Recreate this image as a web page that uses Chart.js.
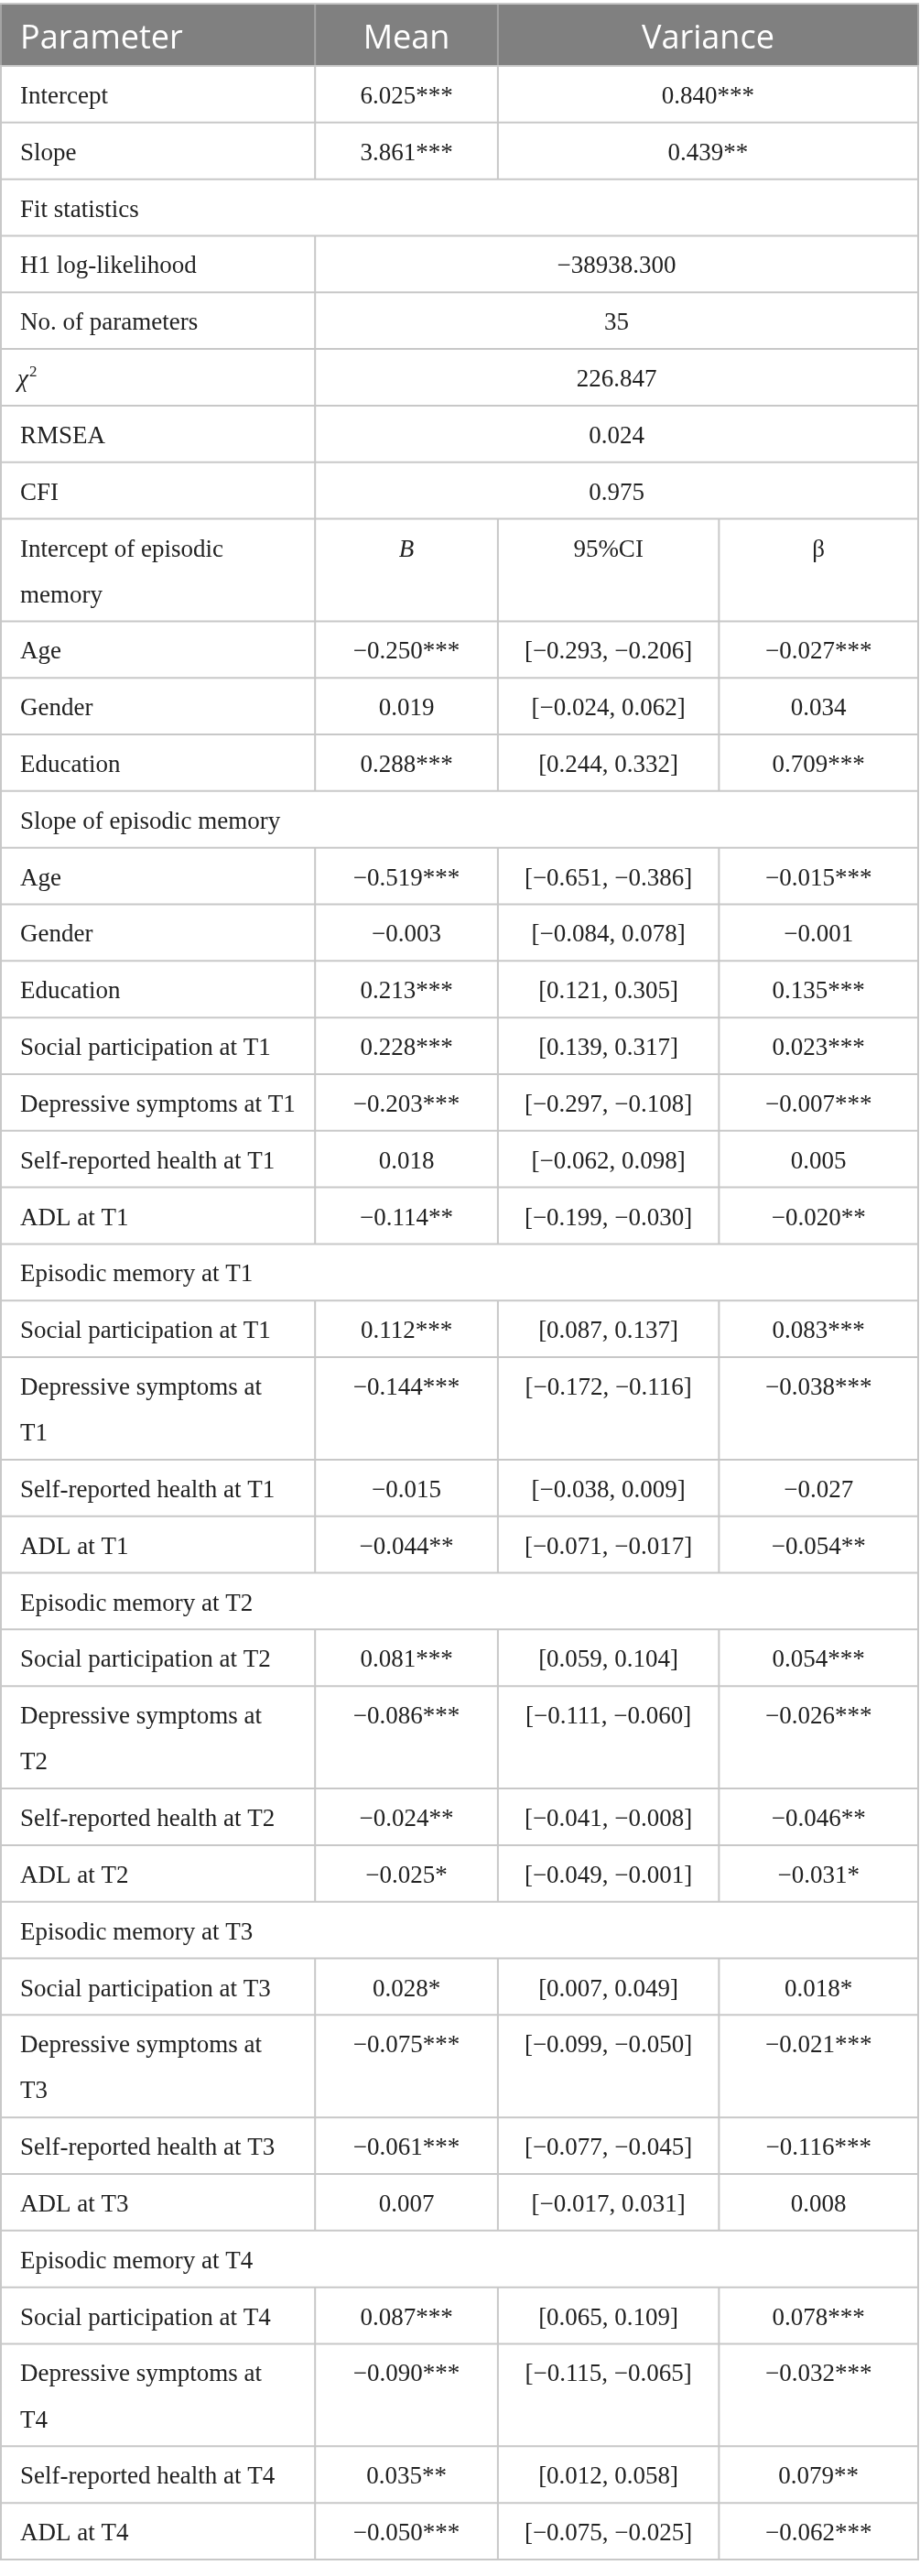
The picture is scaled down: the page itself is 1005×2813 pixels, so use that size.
<!DOCTYPE html>
<html>
<head>
<meta charset="utf-8">
<script src="https://cdn.jsdelivr.net/npm/chart.js@4.4.1/dist/chart.umd.min.js"></script>
<style>
  html, body { margin: 0; padding: 0; background: #ffffff; }
  #wrap { width: 1005px; height: 2813px; }
</style>
</head>
<body>
<div id="wrap"><canvas id="c" width="1005" height="2813"></canvas></div>
<script>
// ---------------- DATA ----------------
const headerLabels = ['Parameter', 'Mean', 'Variance'];

const growthParams    = ['Intercept', 'Slope'];
const growthMeans     = ['6.025***', '3.861***'];
const growthVariances = ['0.840***', '0.439**'];

const fitTitle  = 'Fit statistics';
const fitLabels = ['H1 log-likelihood', 'No. of parameters', 'χ2', 'RMSEA', 'CFI'];
const fitValues = ['−38938.300', '35', '226.847', '0.024', '0.975'];

const coefHeader = ['B', '95%CI', 'β'];

const sectionTitles = [
  'Intercept of episodic\nmemory',
  'Slope of episodic memory',
  'Episodic memory at T1',
  'Episodic memory at T2',
  'Episodic memory at T3',
  'Episodic memory at T4'
];

const interceptPredictors = ['Age', 'Gender', 'Education'];
const interceptB    = ['−0.250***', '0.019', '0.288***'];
const interceptCI   = ['[−0.293, −0.206]', '[−0.024, 0.062]', '[0.244, 0.332]'];
const interceptBeta = ['−0.027***', '0.034', '0.709***'];

const slopePredictors = ['Age', 'Gender', 'Education', 'Social participation at T1',
  'Depressive symptoms at T1', 'Self-reported health at T1', 'ADL at T1'];
const slopeB    = ['−0.519***', '−0.003', '0.213***', '0.228***', '−0.203***', '0.018', '−0.114**'];
const slopeCI   = ['[−0.651, −0.386]', '[−0.084, 0.078]', '[0.121, 0.305]', '[0.139, 0.317]',
  '[−0.297, −0.108]', '[−0.062, 0.098]', '[−0.199, −0.030]'];
const slopeBeta = ['−0.015***', '−0.001', '0.135***', '0.023***', '−0.007***', '0.005', '−0.020**'];

const t1Predictors = ['Social participation at T1', 'Depressive symptoms at\nT1', 'Self-reported health at T1', 'ADL at T1'];
const t1B    = ['0.112***', '−0.144***', '−0.015', '−0.044**'];
const t1CI   = ['[0.087, 0.137]', '[−0.172, −0.116]', '[−0.038, 0.009]', '[−0.071, −0.017]'];
const t1Beta = ['0.083***', '−0.038***', '−0.027', '−0.054**'];

const t2Predictors = ['Social participation at T2', 'Depressive symptoms at\nT2', 'Self-reported health at T2', 'ADL at T2'];
const t2B    = ['0.081***', '−0.086***', '−0.024**', '−0.025*'];
const t2CI   = ['[0.059, 0.104]', '[−0.111, −0.060]', '[−0.041, −0.008]', '[−0.049, −0.001]'];
const t2Beta = ['0.054***', '−0.026***', '−0.046**', '−0.031*'];

const t3Predictors = ['Social participation at T3', 'Depressive symptoms at\nT3', 'Self-reported health at T3', 'ADL at T3'];
const t3B    = ['0.028*', '−0.075***', '−0.061***', '0.007'];
const t3CI   = ['[0.007, 0.049]', '[−0.099, −0.050]', '[−0.077, −0.045]', '[−0.017, 0.031]'];
const t3Beta = ['0.018*', '−0.021***', '−0.116***', '0.008'];

const t4Predictors = ['Social participation at T4', 'Depressive symptoms at\nT4', 'Self-reported health at T4', 'ADL at T4'];
const t4B    = ['0.087***', '−0.090***', '0.035**', '−0.050***'];
const t4CI   = ['[0.065, 0.109]', '[−0.115, −0.065]', '[0.012, 0.058]', '[−0.075, −0.025]'];
const t4Beta = ['0.078***', '−0.032***', '0.079**', '−0.062***'];

// ---------------- LAYOUT / STYLE ----------------
const colWidths = [34.25, 19.93, 24.1, 21.72];          // percent of table width
const colEdges = colWidths.reduce((a, w) => (a.push(a[a.length - 1] + w), a), [0]);
const HEADER_UNITS = 1.1;
const LINE_UNITS = 0.81;
const BODY_FONT = '"Liberation Serif", "Times New Roman", serif';
const HEAD_FONT = '"Open Sans", "Noto Sans", sans-serif';
const BODY_SIZE = 27;
const HEAD_SIZE = 36;
const TEXT_COLOR = '#222222';
const RULE_COLOR = '#c8c8c8';
const HEAD_BG = '#808080';
const HEAD_RULE = '#a4a4a4';

// ---------------- TABLE MODEL ----------------
const rows = [];
function addRow(cells, extra) {
  const lines = Math.max(...cells.map(c => c.t.split('\n').length));
  rows.push(Object.assign({ cells, h: 1 + LINE_UNITS * (lines - 1) }, extra || {}));
}
rows.push({ header: true, h: HEADER_UNITS, cells: [
  { t: headerLabels[0], c: [0, 1], left: true },
  { t: headerLabels[1], c: [1, 2] },
  { t: headerLabels[2], c: [2, 4] }
]});
growthParams.forEach((p, i) => addRow([
  { t: p, c: [0, 1], left: true },
  { t: growthMeans[i], c: [1, 2] },
  { t: growthVariances[i], c: [2, 4] }
]));
addRow([{ t: fitTitle, c: [0, 4], left: true }]);
fitLabels.forEach((p, i) => addRow([
  { t: p, c: [0, 1], left: true, chi: p === 'χ2' },
  { t: fitValues[i], c: [1, 4] }
]));
const sections = [
  [interceptPredictors, interceptB, interceptCI, interceptBeta],
  [slopePredictors, slopeB, slopeCI, slopeBeta],
  [t1Predictors, t1B, t1CI, t1Beta],
  [t2Predictors, t2B, t2CI, t2Beta],
  [t3Predictors, t3B, t3CI, t3Beta],
  [t4Predictors, t4B, t4CI, t4Beta]
];
sections.forEach((sec, si) => {
  if (si === 0) {
    addRow([
      { t: sectionTitles[si], c: [0, 1], left: true },
      { t: coefHeader[0], c: [1, 2], italic: true },
      { t: coefHeader[1], c: [2, 3] },
      { t: coefHeader[2], c: [3, 4] }
    ]);
  } else {
    addRow([{ t: sectionTitles[si], c: [0, 4], left: true }]);
  }
  const [preds, B, CI, beta] = sec;
  preds.forEach((p, i) => addRow([
    { t: p, c: [0, 1], left: true },
    { t: B[i], c: [1, 2] },
    { t: CI[i], c: [2, 3] },
    { t: beta[i], c: [3, 4] }
  ]));
});
const totalUnits = rows.reduce((s, r) => s + r.h, 0);

// ---------------- DRAW PLUGIN ----------------
const tablePlugin = {
  id: 'tablePlugin',
  afterDraw(chart) {
    const ctx = chart.ctx;
    const xs = chart.scales.x, ys = chart.scales.y;
    const px = v => xs.getPixelForValue(v);
    const py = v => ys.getPixelForValue(v);
    const lineGap = py(LINE_UNITS) - py(0);
    ctx.save();
    let acc = 0;
    const geo = rows.map(r => { const g = { top: py(acc), bot: py(acc + r.h) }; acc += r.h; return g; });

    // backgrounds
    rows.forEach((r, i) => {
      if (r.header) {
        ctx.fillStyle = HEAD_BG;
        ctx.fillRect(px(0) - 1, geo[i].top, px(100) - px(0) + 2, geo[i].bot - geo[i].top);
      }
    });

    // vertical rules
    ctx.lineWidth = 2;
    rows.forEach((r, i) => {
      ctx.strokeStyle = r.header ? HEAD_RULE : RULE_COLOR;
      r.cells.forEach((c, k) => {
        const edges = [c.c[0]];
        if (k === r.cells.length - 1) edges.push(c.c[1]);
        edges.forEach(e => {
          const xx = px(colEdges[e]);
          ctx.beginPath();
          ctx.moveTo(xx, geo[i].top);
          ctx.lineTo(xx, geo[i].bot);
          ctx.stroke();
        });
      });
    });

    // horizontal rules
    ctx.strokeStyle = RULE_COLOR;
    const hLines = [geo[0].top].concat(geo.map(g => g.bot));
    hLines.forEach(yy => {
      ctx.beginPath();
      ctx.moveTo(px(0) - 1, yy);
      ctx.lineTo(px(100) + 1, yy);
      ctx.stroke();
    });

    // text
    ctx.textBaseline = 'alphabetic';
    rows.forEach((r, i) => {
      r.cells.forEach(c => {
        const x0 = px(colEdges[c.c[0]]), x1 = px(colEdges[c.c[1]]);
        const lines = c.t.split('\n');
        lines.forEach((ln, li) => {
          let base, font, color;
          if (r.header) {
            base = geo[i].top + 49;
            font = `400 ${HEAD_SIZE}px ${HEAD_FONT}`;
            color = '#ffffff';
          } else {
            base = geo[i].top + 41 + li * lineGap;
            font = `${c.italic ? 'italic ' : ''}400 ${BODY_SIZE}px ${BODY_FONT}`;
            color = TEXT_COLOR;
          }
          ctx.fillStyle = color;
          ctx.font = font;
          const padX = 21;
          if (c.chi) {
            ctx.textAlign = 'left';
            ctx.font = `italic 400 ${BODY_SIZE}px ${BODY_FONT}`;
            ctx.fillText('χ', x0 + padX - 3, base);
            const w = ctx.measureText('χ').width;
            ctx.font = `400 ${Math.round(BODY_SIZE * 0.62)}px ${BODY_FONT}`;
            ctx.fillText('2', x0 + padX - 3 + w + 1, base - 11);
            return;
          }
          if (c.left) {
            ctx.textAlign = 'left';
            ctx.fillText(ln, x0 + padX, base);
          } else {
            ctx.textAlign = 'center';
            ctx.fillText(ln, (x0 + x1) / 2, base);
          }
        });
      });
    });
    ctx.restore();
  }
};

new Chart(document.getElementById('c'), {
  type: 'scatter',
  data: { datasets: [] },
  options: {
    responsive: false,
    animation: false,
    devicePixelRatio: 1,
    layout: { padding: { left: 1, right: 2, top: 4, bottom: 18 } },
    plugins: { legend: { display: false }, tooltip: { enabled: false } },
    scales: {
      x: { type: 'linear', min: 0, max: 100, display: false },
      y: { type: 'linear', min: 0, max: totalUnits, reverse: true, display: false }
    }
  },
  plugins: [tablePlugin]
});
</script>
</body>
</html>
